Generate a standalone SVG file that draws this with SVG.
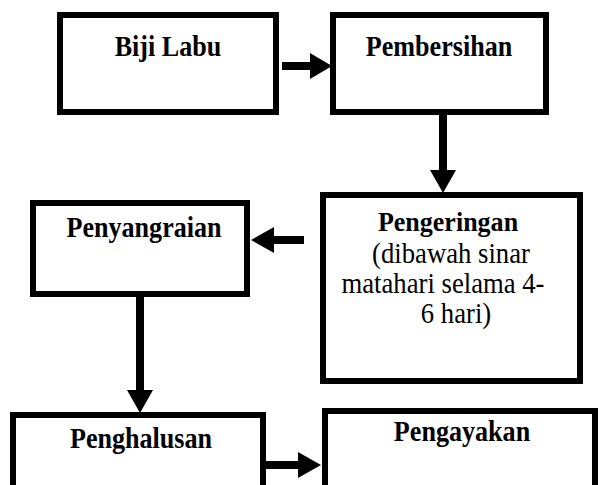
<svg xmlns="http://www.w3.org/2000/svg" width="603" height="485" viewBox="0 0 603 485">
<style>
.box{fill:#fff;stroke:#000;stroke-width:6}
.b{font-family:"Liberation Serif","Times New Roman",serif;font-weight:bold;font-size:30px;text-anchor:middle;fill:#000}
.b2{font-family:"Liberation Serif","Times New Roman",serif;font-weight:bold;font-size:28px;text-anchor:middle;fill:#000}
.r{font-family:"Liberation Serif","Times New Roman",serif;font-size:29px;text-anchor:middle;fill:#000}
.shaft{stroke:#000;stroke-width:8;fill:none}
.head{fill:#000}
</style>
<rect width="603" height="485" fill="#fff"/>
<g id="n1"><rect class="box" x="60" y="15" width="216" height="97"/><text class="b" transform="translate(168,56) scale(0.87,1)">Biji Labu</text></g>
<g id="n2"><rect class="box" x="333" y="15" width="213" height="97"/><text class="b" transform="translate(439,56) scale(0.87,1)">Pembersihan</text></g>
<g id="n3"><rect class="box" x="323" y="195" width="257" height="186"/>
<text class="b2" transform="translate(448,231) scale(0.93,1)">Pengeringan</text>
<text class="r" transform="translate(451,263) scale(0.92,1)">(dibawah sinar</text>
<text class="r" transform="translate(443,293) scale(0.92,1)">matahari selama 4-</text>
<text class="r" transform="translate(456,323) scale(0.92,1)">6 hari)</text></g>
<g id="n4"><rect class="box" x="33" y="203" width="214" height="91"/><text class="b" transform="translate(144,237) scale(0.87,1)">Penyangraian</text></g>
<g id="n5"><rect class="box" x="13" y="415" width="250" height="80"/><text class="b" transform="translate(141,448) scale(0.87,1)">Penghalusan</text></g>
<g id="n6"><rect class="box" x="325" y="411" width="270" height="84"/><text class="b" transform="translate(462,441) scale(0.87,1)">Pengayakan</text></g>
<g id="connectors">
<line class="shaft" x1="282" y1="66" x2="312" y2="66"/><polygon class="head" points="310,53 332,66 310,79"/>
<line class="shaft" x1="443" y1="115" x2="443" y2="172"/><polygon class="head" points="430,170 443,193 456,170"/>
<line class="shaft" x1="304" y1="240" x2="272" y2="240"/><polygon class="head" points="274,227 251,240 274,253"/>
<line class="shaft" x1="140" y1="297" x2="140" y2="392"/><polygon class="head" points="127,390 140,413 153,390"/>
<line class="shaft" x1="266" y1="465" x2="300" y2="465"/><polygon class="head" points="298,452 321,465 298,478"/>
</g>
</svg>
